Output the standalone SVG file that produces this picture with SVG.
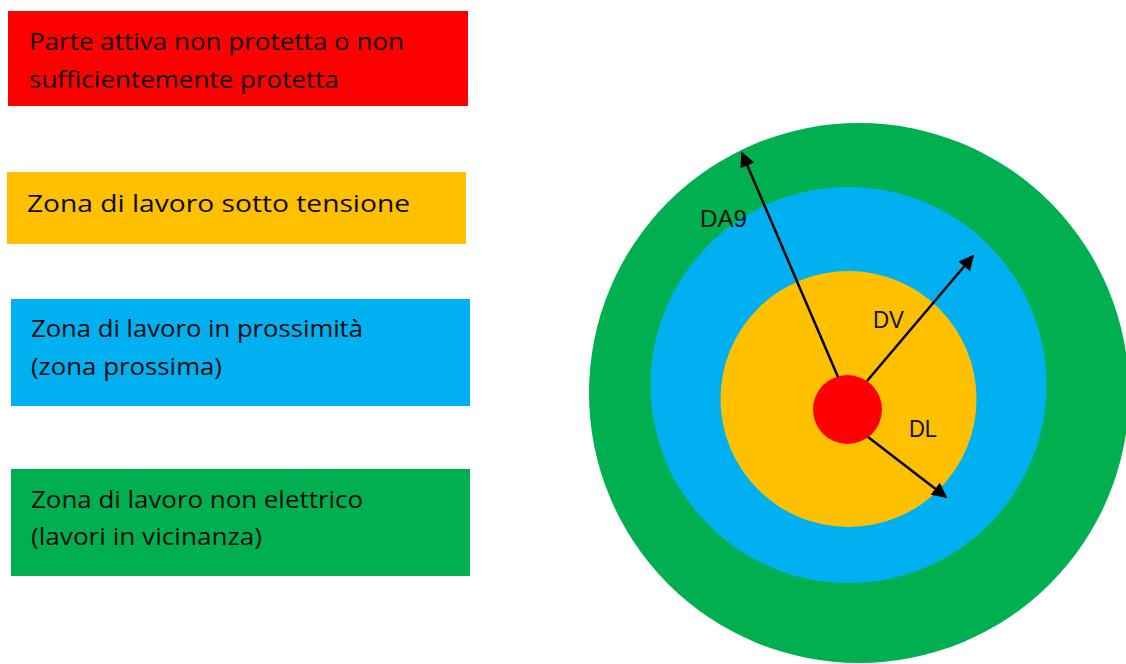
<svg xmlns="http://www.w3.org/2000/svg" width="1126" height="664" viewBox="0 0 1126 664">
<defs>
<style>
.lbl{font-family:"Open Sans","Noto Sans",sans-serif;font-size:24px;fill:#0a0a0a}
.dl{font-family:"Liberation Sans",Arial,sans-serif;font-size:23px;fill:#111}
.arr{stroke:#000;stroke-width:2.5;fill:none;marker-end:url(#ah)}
</style>
<marker id="ah" viewBox="0 0 10 10" refX="9" refY="5" markerWidth="20" markerHeight="15" markerUnits="userSpaceOnUse" orient="auto">
<path d="M0,0 L10,5 L0,10 z" fill="#000"/>
</marker>
</defs>
<rect width="1126" height="664" fill="#fff"/>
<g id="legend-red">
<rect x="8" y="11" width="460" height="95" fill="#FF0000"/>
<text class="lbl" x="29" y="50" textLength="375" lengthAdjust="spacingAndGlyphs">Parte attiva non protetta o non</text>
<text class="lbl" x="29" y="88" textLength="310" lengthAdjust="spacingAndGlyphs">sufficientemente protetta</text>
</g>
<g id="legend-yellow">
<rect x="7" y="172" width="459" height="72" fill="#FFC000"/>
<text class="lbl" x="27" y="212" textLength="383" lengthAdjust="spacingAndGlyphs">Zona di lavoro sotto tensione</text>
</g>
<g id="legend-blue">
<rect x="11" y="299" width="459" height="107" fill="#00B0F0"/>
<text class="lbl" x="31" y="337" textLength="332" lengthAdjust="spacingAndGlyphs">Zona di lavoro in prossimità</text>
<text class="lbl" x="31" y="375" textLength="191" lengthAdjust="spacingAndGlyphs">(zona prossima)</text>
</g>
<g id="legend-green">
<rect x="11" y="469" width="459" height="107" fill="#00B050"/>
<text class="lbl" x="31" y="508" textLength="332" lengthAdjust="spacingAndGlyphs">Zona di lavoro non elettrico</text>
<text class="lbl" x="31" y="545" textLength="231" lengthAdjust="spacingAndGlyphs">(lavori in vicinanza)</text>
</g>
<g id="zone-green"><circle cx="859" cy="393" r="270" fill="#00B050"/></g>
<g id="zone-blue"><circle cx="848.5" cy="385" r="198" fill="#00B0F0"/></g>
<g id="zone-yellow"><circle cx="848.5" cy="399" r="128" fill="#FFC000"/></g>
<g id="zone-red"><circle cx="847.5" cy="409.5" r="34.5" fill="#FF0000"/></g>
<g id="connectors">
<line class="arr" x1="838" y1="377" x2="742" y2="153"/>
<line class="arr" x1="867" y1="381" x2="973" y2="256"/>
<line class="arr" x1="868" y1="437" x2="946" y2="497"/>
</g>
<g id="labels">
<text class="dl" x="700" y="227" textLength="47" lengthAdjust="spacingAndGlyphs">DA9</text>
<text class="dl" x="873" y="328" textLength="31" lengthAdjust="spacingAndGlyphs">DV</text>
<text class="dl" x="909" y="437" textLength="28" lengthAdjust="spacingAndGlyphs">DL</text>
</g>
</svg>
